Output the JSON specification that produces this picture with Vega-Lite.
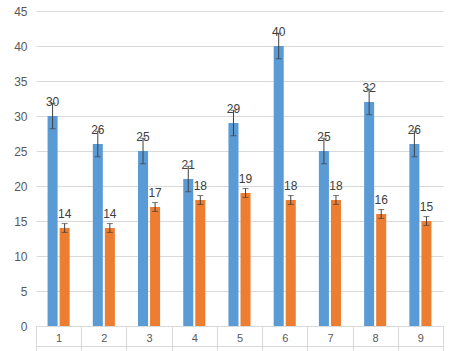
{
  "$schema": "https://vega.github.io/schema/vega-lite/v6.json",
  "autosize": {"type": "none"},
  "width": 407,
  "height": 315,
  "padding": {"left": 36, "top": 11, "right": 8, "bottom": 25},
  "background": "white",
  "config": {
    "view": {"stroke": null},
    "font": "Liberation Sans",
    "axis": {"labelFont": "Liberation Sans", "labelColor": "#595959", "labelFontSize": 11}
  },
  "data": {
    "values": [
      {"cat": "1", "series": "A", "value": 30, "err": 1.82},
      {"cat": "2", "series": "A", "value": 26, "err": 1.82},
      {"cat": "3", "series": "A", "value": 25, "err": 1.82},
      {"cat": "4", "series": "A", "value": 21, "err": 1.82},
      {"cat": "5", "series": "A", "value": 29, "err": 1.82},
      {"cat": "6", "series": "A", "value": 40, "err": 1.82},
      {"cat": "7", "series": "A", "value": 25, "err": 1.82},
      {"cat": "8", "series": "A", "value": 32, "err": 1.82},
      {"cat": "9", "series": "A", "value": 26, "err": 1.82},
      {"cat": "1", "series": "B", "value": 14, "err": 0.63},
      {"cat": "2", "series": "B", "value": 14, "err": 0.63},
      {"cat": "3", "series": "B", "value": 17, "err": 0.63},
      {"cat": "4", "series": "B", "value": 18, "err": 0.63},
      {"cat": "5", "series": "B", "value": 19, "err": 0.63},
      {"cat": "6", "series": "B", "value": 18, "err": 0.63},
      {"cat": "7", "series": "B", "value": 18, "err": 0.63},
      {"cat": "8", "series": "B", "value": 16, "err": 0.63},
      {"cat": "9", "series": "B", "value": 15, "err": 0.63}
    ]
  },
  "encoding": {
    "xOffset": {
      "field": "series", "type": "nominal",
      "scale": {"paddingInner": 0.167, "paddingOuter": 0.96}
    },
    "y": {
      "field": "value", "type": "quantitative",
      "scale": {"domain": [0, 45], "nice": false},
      "axis": {
        "title": null, "values": [0, 5, 10, 15, 20, 25, 30, 35, 40, 45],
        "domain": false, "ticks": false, "labelPadding": 9,
        "gridColor": "#d9d9d9", "labelFontSize": 12, "labelOverlap": false
      }
    }
  },
  "layer": [
    {
      "layer": [
        {
          "mark": {"type": "bar"},
          "encoding": {
            "color": {
              "field": "series", "type": "nominal", "legend": null,
              "scale": {"domain": ["A", "B"], "range": ["#5b9bd5", "#ed7d31"]}
            }
          }
        },
        {
          "mark": {"type": "errorbar", "ticks": {"size": 6, "color": "#404040"}, "rule": {"color": "#404040"}, "color": "#404040"},
          "encoding": {
            "yError": {"field": "err"}
          }
        },
        {
          "mark": {"type": "text", "baseline": "bottom", "dy": -7, "color": "#404040", "fontSize": 12},
          "encoding": {
            "text": {"field": "value", "type": "quantitative"}
          }
        }
      ],
      "encoding": {
        "x": {
          "field": "cat", "type": "nominal",
          "scale": {"paddingInner": 0, "paddingOuter": 0},
          "axis": {
            "title": null, "labelAngle": 0, "domainColor": "#d9d9d9",
            "tickColor": "#d9d9d9", "tickBand": "extent", "tickSize": 25,
            "labelPadding": -19, "labelFontSize": 11, "orient": "bottom"
          }
        }
      }
    },
    {
      "mark": {"type": "bar", "opacity": 0},
      "encoding": {
        "x": {
          "field": "cat", "type": "nominal",
          "scale": {"paddingInner": 0, "paddingOuter": 0},
          "axis": {
            "title": null, "labels": false, "ticks": false, "grid": false,
            "domainColor": "#d9d9d9", "orient": "bottom", "offset": 20
          }
        }
      }
    }
  ],
  "resolve": {"axis": {"x": "independent"}}
}
